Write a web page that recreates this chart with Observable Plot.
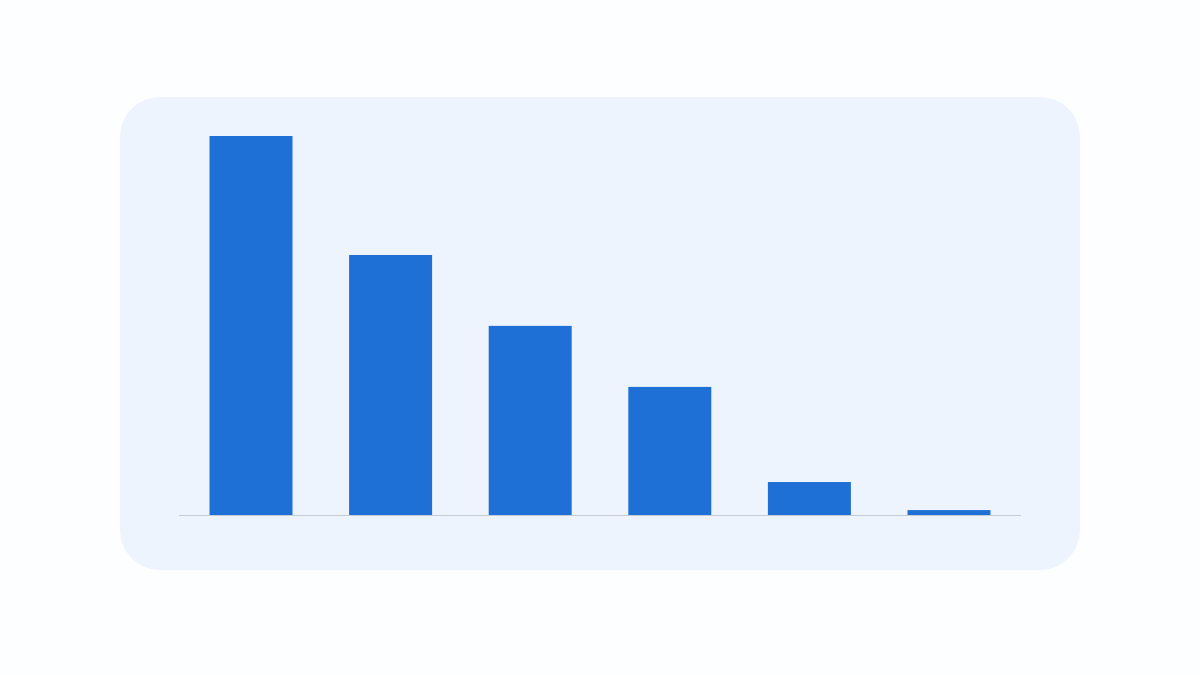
<!DOCTYPE html>
<html>
<head>
<meta charset="utf-8">
<script src="https://cdn.jsdelivr.net/npm/d3@7"></script>
<script src="https://cdn.jsdelivr.net/npm/@observablehq/plot@0.6"></script>
<style>
  html, body { margin: 0; padding: 0; background: #fdfeff; width: 1200px; height: 675px; overflow: hidden; font-family: "Inter", sans-serif; }
  #panel { position: absolute; left: 120px; top: 97px; width: 960px; height: 473px; border-radius: 40px; background: #eef4fd; overflow: hidden; }
  #panel svg { display: block; background: transparent; }
</style>
</head>
<body>
<div id="panel"></div>
<script>
const categories = ["A", "B", "C", "D", "E", "F"];
const values = [100, 68.6, 49.9, 33.8, 8.7, 1.3];

const data = categories.map((c, i) => ({category: c, value: values[i]}));

const chart = Plot.plot({
  width: 960,
  height: 473,
  marginLeft: 59,
  marginRight: 59,
  marginTop: 39,
  marginBottom: 55,
  style: {background: "transparent"},
  x: {domain: categories, axis: null, round: false, paddingInner: 0.4054, paddingOuter: 0.2185},
  y: {domain: [0, 100], axis: null},
  marks: [
    Plot.barY(data, {x: "category", y: "value", fill: "#1f70d6"}),
    Plot.ruleY([0], {stroke: "#c5cad3", strokeWidth: 1.2})
  ]
});
document.getElementById("panel").appendChild(chart);
</script>
</body>
</html>
